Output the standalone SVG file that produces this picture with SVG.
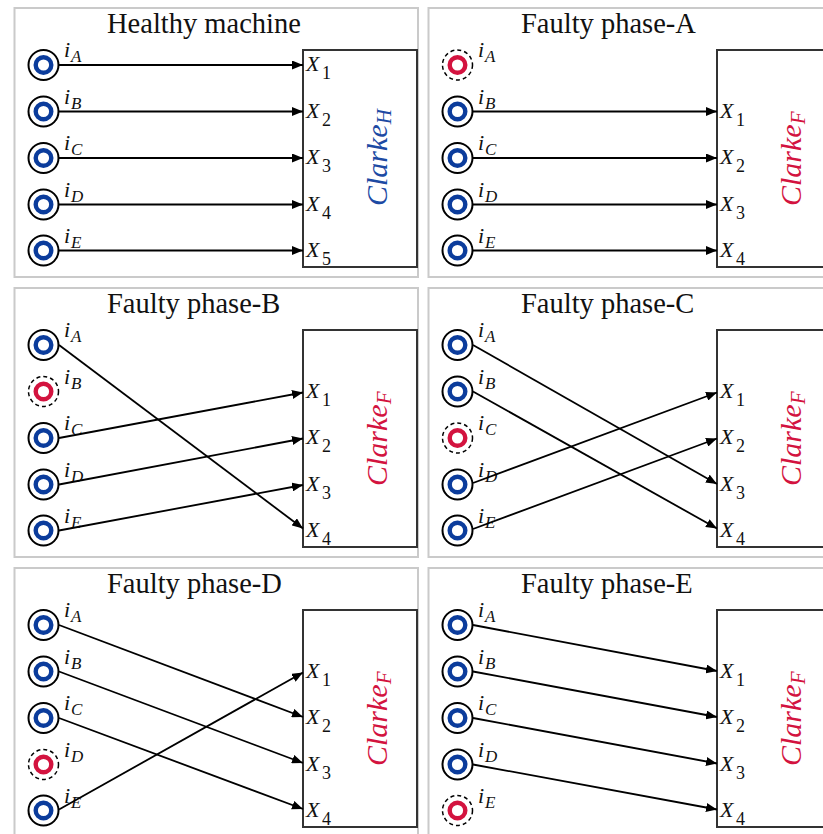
<svg xmlns="http://www.w3.org/2000/svg" xmlns:xlink="http://www.w3.org/1999/xlink" width="823" height="834" viewBox="0 0 823 834">
<style>
.panel{fill:#fff;stroke:#cacaca;stroke-width:2}
.box{fill:#fff;stroke:#333;stroke-width:2}
.title{font-family:"Liberation Serif",serif;font-size:28.5px;fill:#111}
.lbl{font-family:"Liberation Serif",serif;font-style:italic;font-size:22px;fill:#111}
.sub{font-size:17px}
.xs{font-style:normal;font-size:18px}
.clk{font-family:"Liberation Serif",serif;font-style:italic;font-size:30px}
.clkH{fill:#1d4aa3}
.clkF{fill:#d3133f}
.wire{stroke:#000;stroke-width:1.8;fill:none;marker-end:url(#ah)}
</style>
<defs>
<marker id="ah" markerWidth="11" markerHeight="9" refX="11" refY="4.5" orient="auto" markerUnits="userSpaceOnUse"><path d="M0,0 L11,4.5 L0,9 z" fill="#000"/></marker>
<g id="ok"><circle r="15" fill="#fff" stroke="#000" stroke-width="2"/><circle r="7.8" fill="none" stroke="#0b3c9c" stroke-width="4.4"/></g>
<g id="bad"><circle r="15" fill="#fff" stroke="#000" stroke-width="1.5" stroke-dasharray="4 3"/><circle r="7.8" fill="none" stroke="#d3133f" stroke-width="4.4"/></g>
</defs>

<!-- Panel 1: Healthy -->
<g id="panel-healthy">
<rect class="panel" x="14.5" y="8" width="403.5" height="269"/>
<text class="title" x="107" y="33">Healthy machine</text>
<g id="h-iA"><use href="#ok" x="43.5" y="65"/><text class="lbl" x="64" y="57">i<tspan class="sub" x="71" y="62">A</tspan></text></g>
<g id="h-iB"><use href="#ok" x="43.5" y="111.5"/><text class="lbl" x="64" y="103.5">i<tspan class="sub" x="71" y="108.5">B</tspan></text></g>
<g id="h-iC"><use href="#ok" x="43.5" y="158"/><text class="lbl" x="64" y="150">i<tspan class="sub" x="71" y="155">C</tspan></text></g>
<g id="h-iD"><use href="#ok" x="43.5" y="204.5"/><text class="lbl" x="64" y="196.5">i<tspan class="sub" x="71" y="201.5">D</tspan></text></g>
<g id="h-iE"><use href="#ok" x="43.5" y="250.5"/><text class="lbl" x="64" y="242.5">i<tspan class="sub" x="71" y="247.5">E</tspan></text></g>
<g id="h-clarke">
<rect class="box" x="303" y="50" width="114" height="217"/>
<text class="lbl" x="306" y="71">X<tspan class="xs" x="322" y="79">1</tspan></text>
<text class="lbl" x="306" y="117.5">X<tspan class="xs" x="322" y="125.5">2</tspan></text>
<text class="lbl" x="306" y="164">X<tspan class="xs" x="322" y="172">3</tspan></text>
<text class="lbl" x="306" y="210.5">X<tspan class="xs" x="322" y="218.5">4</tspan></text>
<text class="lbl" x="306" y="256.5">X<tspan class="xs" x="322" y="264.5">5</tspan></text>
<text class="clk clkH" transform="translate(387,206) rotate(-90)">Clarke<tspan font-size="21" dy="4">H</tspan></text>
</g>
</g>

<!-- Panel 2: Faulty A -->
<g id="panel-faulty-A" transform="translate(414,0)">
<rect class="panel" x="14.5" y="8" width="420" height="269"/>
<text class="title" x="107" y="33">Faulty phase-A</text>
<g id="a-iA"><use href="#bad" x="43.5" y="65"/><text class="lbl" x="64" y="57">i<tspan class="sub" x="71" y="62">A</tspan></text></g>
<g id="a-iB"><use href="#ok" x="43.5" y="111.5"/><text class="lbl" x="64" y="103.5">i<tspan class="sub" x="71" y="108.5">B</tspan></text></g>
<g id="a-iC"><use href="#ok" x="43.5" y="158"/><text class="lbl" x="64" y="150">i<tspan class="sub" x="71" y="155">C</tspan></text></g>
<g id="a-iD"><use href="#ok" x="43.5" y="204.5"/><text class="lbl" x="64" y="196.5">i<tspan class="sub" x="71" y="201.5">D</tspan></text></g>
<g id="a-iE"><use href="#ok" x="43.5" y="250.5"/><text class="lbl" x="64" y="242.5">i<tspan class="sub" x="71" y="247.5">E</tspan></text></g>
<g id="a-clarke">
<rect class="box" x="303" y="50" width="120" height="217"/>
<text class="lbl" x="306" y="117.5">X<tspan class="xs" x="322" y="125.5">1</tspan></text>
<text class="lbl" x="306" y="164">X<tspan class="xs" x="322" y="172">2</tspan></text>
<text class="lbl" x="306" y="210.5">X<tspan class="xs" x="322" y="218.5">3</tspan></text>
<text class="lbl" x="306" y="256.5">X<tspan class="xs" x="322" y="264.5">4</tspan></text>
<text class="clk clkF" transform="translate(387,206) rotate(-90)">Clarke<tspan font-size="21" dy="4">F</tspan></text>
</g>
</g>

<!-- Panel 3: Faulty B -->
<g id="panel-faulty-B" transform="translate(0,280)">
<rect class="panel" x="14.5" y="8" width="403.5" height="269"/>
<text class="title" x="107" y="33">Faulty phase-B</text>
<g id="b-iA"><use href="#ok" x="43.5" y="65"/><text class="lbl" x="64" y="57">i<tspan class="sub" x="71" y="62">A</tspan></text></g>
<g id="b-iB"><use href="#bad" x="43.5" y="111.5"/><text class="lbl" x="64" y="103.5">i<tspan class="sub" x="71" y="108.5">B</tspan></text></g>
<g id="b-iC"><use href="#ok" x="43.5" y="158"/><text class="lbl" x="64" y="150">i<tspan class="sub" x="71" y="155">C</tspan></text></g>
<g id="b-iD"><use href="#ok" x="43.5" y="204.5"/><text class="lbl" x="64" y="196.5">i<tspan class="sub" x="71" y="201.5">D</tspan></text></g>
<g id="b-iE"><use href="#ok" x="43.5" y="250.5"/><text class="lbl" x="64" y="242.5">i<tspan class="sub" x="71" y="247.5">E</tspan></text></g>
<g id="b-clarke">
<rect class="box" x="303" y="50" width="114" height="217"/>
<text class="lbl" x="306" y="117.5">X<tspan class="xs" x="322" y="125.5">1</tspan></text>
<text class="lbl" x="306" y="164">X<tspan class="xs" x="322" y="172">2</tspan></text>
<text class="lbl" x="306" y="210.5">X<tspan class="xs" x="322" y="218.5">3</tspan></text>
<text class="lbl" x="306" y="256.5">X<tspan class="xs" x="322" y="264.5">4</tspan></text>
<text class="clk clkF" transform="translate(387,206) rotate(-90)">Clarke<tspan font-size="21" dy="4">F</tspan></text>
</g>
</g>

<!-- Panel 4: Faulty C -->
<g id="panel-faulty-C" transform="translate(414,280)">
<rect class="panel" x="14.5" y="8" width="420" height="269"/>
<text class="title" x="107" y="33">Faulty phase-C</text>
<g id="c-iA"><use href="#ok" x="43.5" y="65"/><text class="lbl" x="64" y="57">i<tspan class="sub" x="71" y="62">A</tspan></text></g>
<g id="c-iB"><use href="#ok" x="43.5" y="111.5"/><text class="lbl" x="64" y="103.5">i<tspan class="sub" x="71" y="108.5">B</tspan></text></g>
<g id="c-iC"><use href="#bad" x="43.5" y="158"/><text class="lbl" x="64" y="150">i<tspan class="sub" x="71" y="155">C</tspan></text></g>
<g id="c-iD"><use href="#ok" x="43.5" y="204.5"/><text class="lbl" x="64" y="196.5">i<tspan class="sub" x="71" y="201.5">D</tspan></text></g>
<g id="c-iE"><use href="#ok" x="43.5" y="250.5"/><text class="lbl" x="64" y="242.5">i<tspan class="sub" x="71" y="247.5">E</tspan></text></g>
<g id="c-clarke">
<rect class="box" x="303" y="50" width="120" height="217"/>
<text class="lbl" x="306" y="117.5">X<tspan class="xs" x="322" y="125.5">1</tspan></text>
<text class="lbl" x="306" y="164">X<tspan class="xs" x="322" y="172">2</tspan></text>
<text class="lbl" x="306" y="210.5">X<tspan class="xs" x="322" y="218.5">3</tspan></text>
<text class="lbl" x="306" y="256.5">X<tspan class="xs" x="322" y="264.5">4</tspan></text>
<text class="clk clkF" transform="translate(387,206) rotate(-90)">Clarke<tspan font-size="21" dy="4">F</tspan></text>
</g>
</g>

<!-- Panel 5: Faulty D -->
<g id="panel-faulty-D" transform="translate(0,560)">
<rect class="panel" x="14.5" y="8" width="403.5" height="269"/>
<text class="title" x="107" y="33">Faulty phase-D</text>
<g id="d-iA"><use href="#ok" x="43.5" y="65"/><text class="lbl" x="64" y="57">i<tspan class="sub" x="71" y="62">A</tspan></text></g>
<g id="d-iB"><use href="#ok" x="43.5" y="111.5"/><text class="lbl" x="64" y="103.5">i<tspan class="sub" x="71" y="108.5">B</tspan></text></g>
<g id="d-iC"><use href="#ok" x="43.5" y="158"/><text class="lbl" x="64" y="150">i<tspan class="sub" x="71" y="155">C</tspan></text></g>
<g id="d-iD"><use href="#bad" x="43.5" y="204.5"/><text class="lbl" x="64" y="196.5">i<tspan class="sub" x="71" y="201.5">D</tspan></text></g>
<g id="d-iE"><use href="#ok" x="43.5" y="250.5"/><text class="lbl" x="64" y="242.5">i<tspan class="sub" x="71" y="247.5">E</tspan></text></g>
<g id="d-clarke">
<rect class="box" x="303" y="50" width="114" height="217"/>
<text class="lbl" x="306" y="117.5">X<tspan class="xs" x="322" y="125.5">1</tspan></text>
<text class="lbl" x="306" y="164">X<tspan class="xs" x="322" y="172">2</tspan></text>
<text class="lbl" x="306" y="210.5">X<tspan class="xs" x="322" y="218.5">3</tspan></text>
<text class="lbl" x="306" y="256.5">X<tspan class="xs" x="322" y="264.5">4</tspan></text>
<text class="clk clkF" transform="translate(387,206) rotate(-90)">Clarke<tspan font-size="21" dy="4">F</tspan></text>
</g>
</g>

<!-- Panel 6: Faulty E -->
<g id="panel-faulty-E" transform="translate(414,560)">
<rect class="panel" x="14.5" y="8" width="420" height="269"/>
<text class="title" x="107" y="33">Faulty phase-E</text>
<g id="e-iA"><use href="#ok" x="43.5" y="65"/><text class="lbl" x="64" y="57">i<tspan class="sub" x="71" y="62">A</tspan></text></g>
<g id="e-iB"><use href="#ok" x="43.5" y="111.5"/><text class="lbl" x="64" y="103.5">i<tspan class="sub" x="71" y="108.5">B</tspan></text></g>
<g id="e-iC"><use href="#ok" x="43.5" y="158"/><text class="lbl" x="64" y="150">i<tspan class="sub" x="71" y="155">C</tspan></text></g>
<g id="e-iD"><use href="#ok" x="43.5" y="204.5"/><text class="lbl" x="64" y="196.5">i<tspan class="sub" x="71" y="201.5">D</tspan></text></g>
<g id="e-iE"><use href="#bad" x="43.5" y="250.5"/><text class="lbl" x="64" y="242.5">i<tspan class="sub" x="71" y="247.5">E</tspan></text></g>
<g id="e-clarke">
<rect class="box" x="303" y="50" width="120" height="217"/>
<text class="lbl" x="306" y="117.5">X<tspan class="xs" x="322" y="125.5">1</tspan></text>
<text class="lbl" x="306" y="164">X<tspan class="xs" x="322" y="172">2</tspan></text>
<text class="lbl" x="306" y="210.5">X<tspan class="xs" x="322" y="218.5">3</tspan></text>
<text class="lbl" x="306" y="256.5">X<tspan class="xs" x="322" y="264.5">4</tspan></text>
<text class="clk clkF" transform="translate(387,206) rotate(-90)">Clarke<tspan font-size="21" dy="4">F</tspan></text>
</g>
</g>

<!-- Connectors -->
<g id="connectors">
<g id="conn-healthy">
<line class="wire" x1="59" y1="65" x2="303" y2="65"/>
<line class="wire" x1="59" y1="111.5" x2="303" y2="111.5"/>
<line class="wire" x1="59" y1="158" x2="303" y2="158"/>
<line class="wire" x1="59" y1="204.5" x2="303" y2="204.5"/>
<line class="wire" x1="59" y1="250.5" x2="303" y2="250.5"/>
</g>
<g id="conn-A" transform="translate(414,0)">
<line class="wire" x1="59" y1="111.5" x2="303" y2="111.5"/>
<line class="wire" x1="59" y1="158" x2="303" y2="158"/>
<line class="wire" x1="59" y1="204.5" x2="303" y2="204.5"/>
<line class="wire" x1="59" y1="250.5" x2="303" y2="250.5"/>
</g>
<g id="conn-B" transform="translate(0,280)">
<line class="wire" x1="59" y1="65" x2="303" y2="248.5"/>
<line class="wire" x1="59" y1="158" x2="303" y2="112.5"/>
<line class="wire" x1="59" y1="204.5" x2="303" y2="158.5"/>
<line class="wire" x1="59" y1="250.5" x2="303" y2="205"/>
</g>
<g id="conn-C" transform="translate(414,280)">
<line class="wire" x1="59" y1="65" x2="303" y2="204"/>
<line class="wire" x1="59" y1="111.5" x2="303" y2="248.5"/>
<line class="wire" x1="59" y1="203" x2="303" y2="112.5"/>
<line class="wire" x1="59" y1="249" x2="303" y2="158.5"/>
</g>
<g id="conn-D" transform="translate(0,560)">
<line class="wire" x1="59" y1="65" x2="303" y2="157"/>
<line class="wire" x1="59" y1="111.5" x2="303" y2="203"/>
<line class="wire" x1="59" y1="158" x2="303" y2="249"/>
<line class="wire" x1="59" y1="249.5" x2="303" y2="112.5"/>
</g>
<g id="conn-E" transform="translate(414,560)">
<line class="wire" x1="59" y1="65" x2="303" y2="111"/>
<line class="wire" x1="59" y1="111.5" x2="303" y2="157"/>
<line class="wire" x1="59" y1="158" x2="303" y2="203.5"/>
<line class="wire" x1="59" y1="204.5" x2="303" y2="249.5"/>
</g>
</g>
</svg>
